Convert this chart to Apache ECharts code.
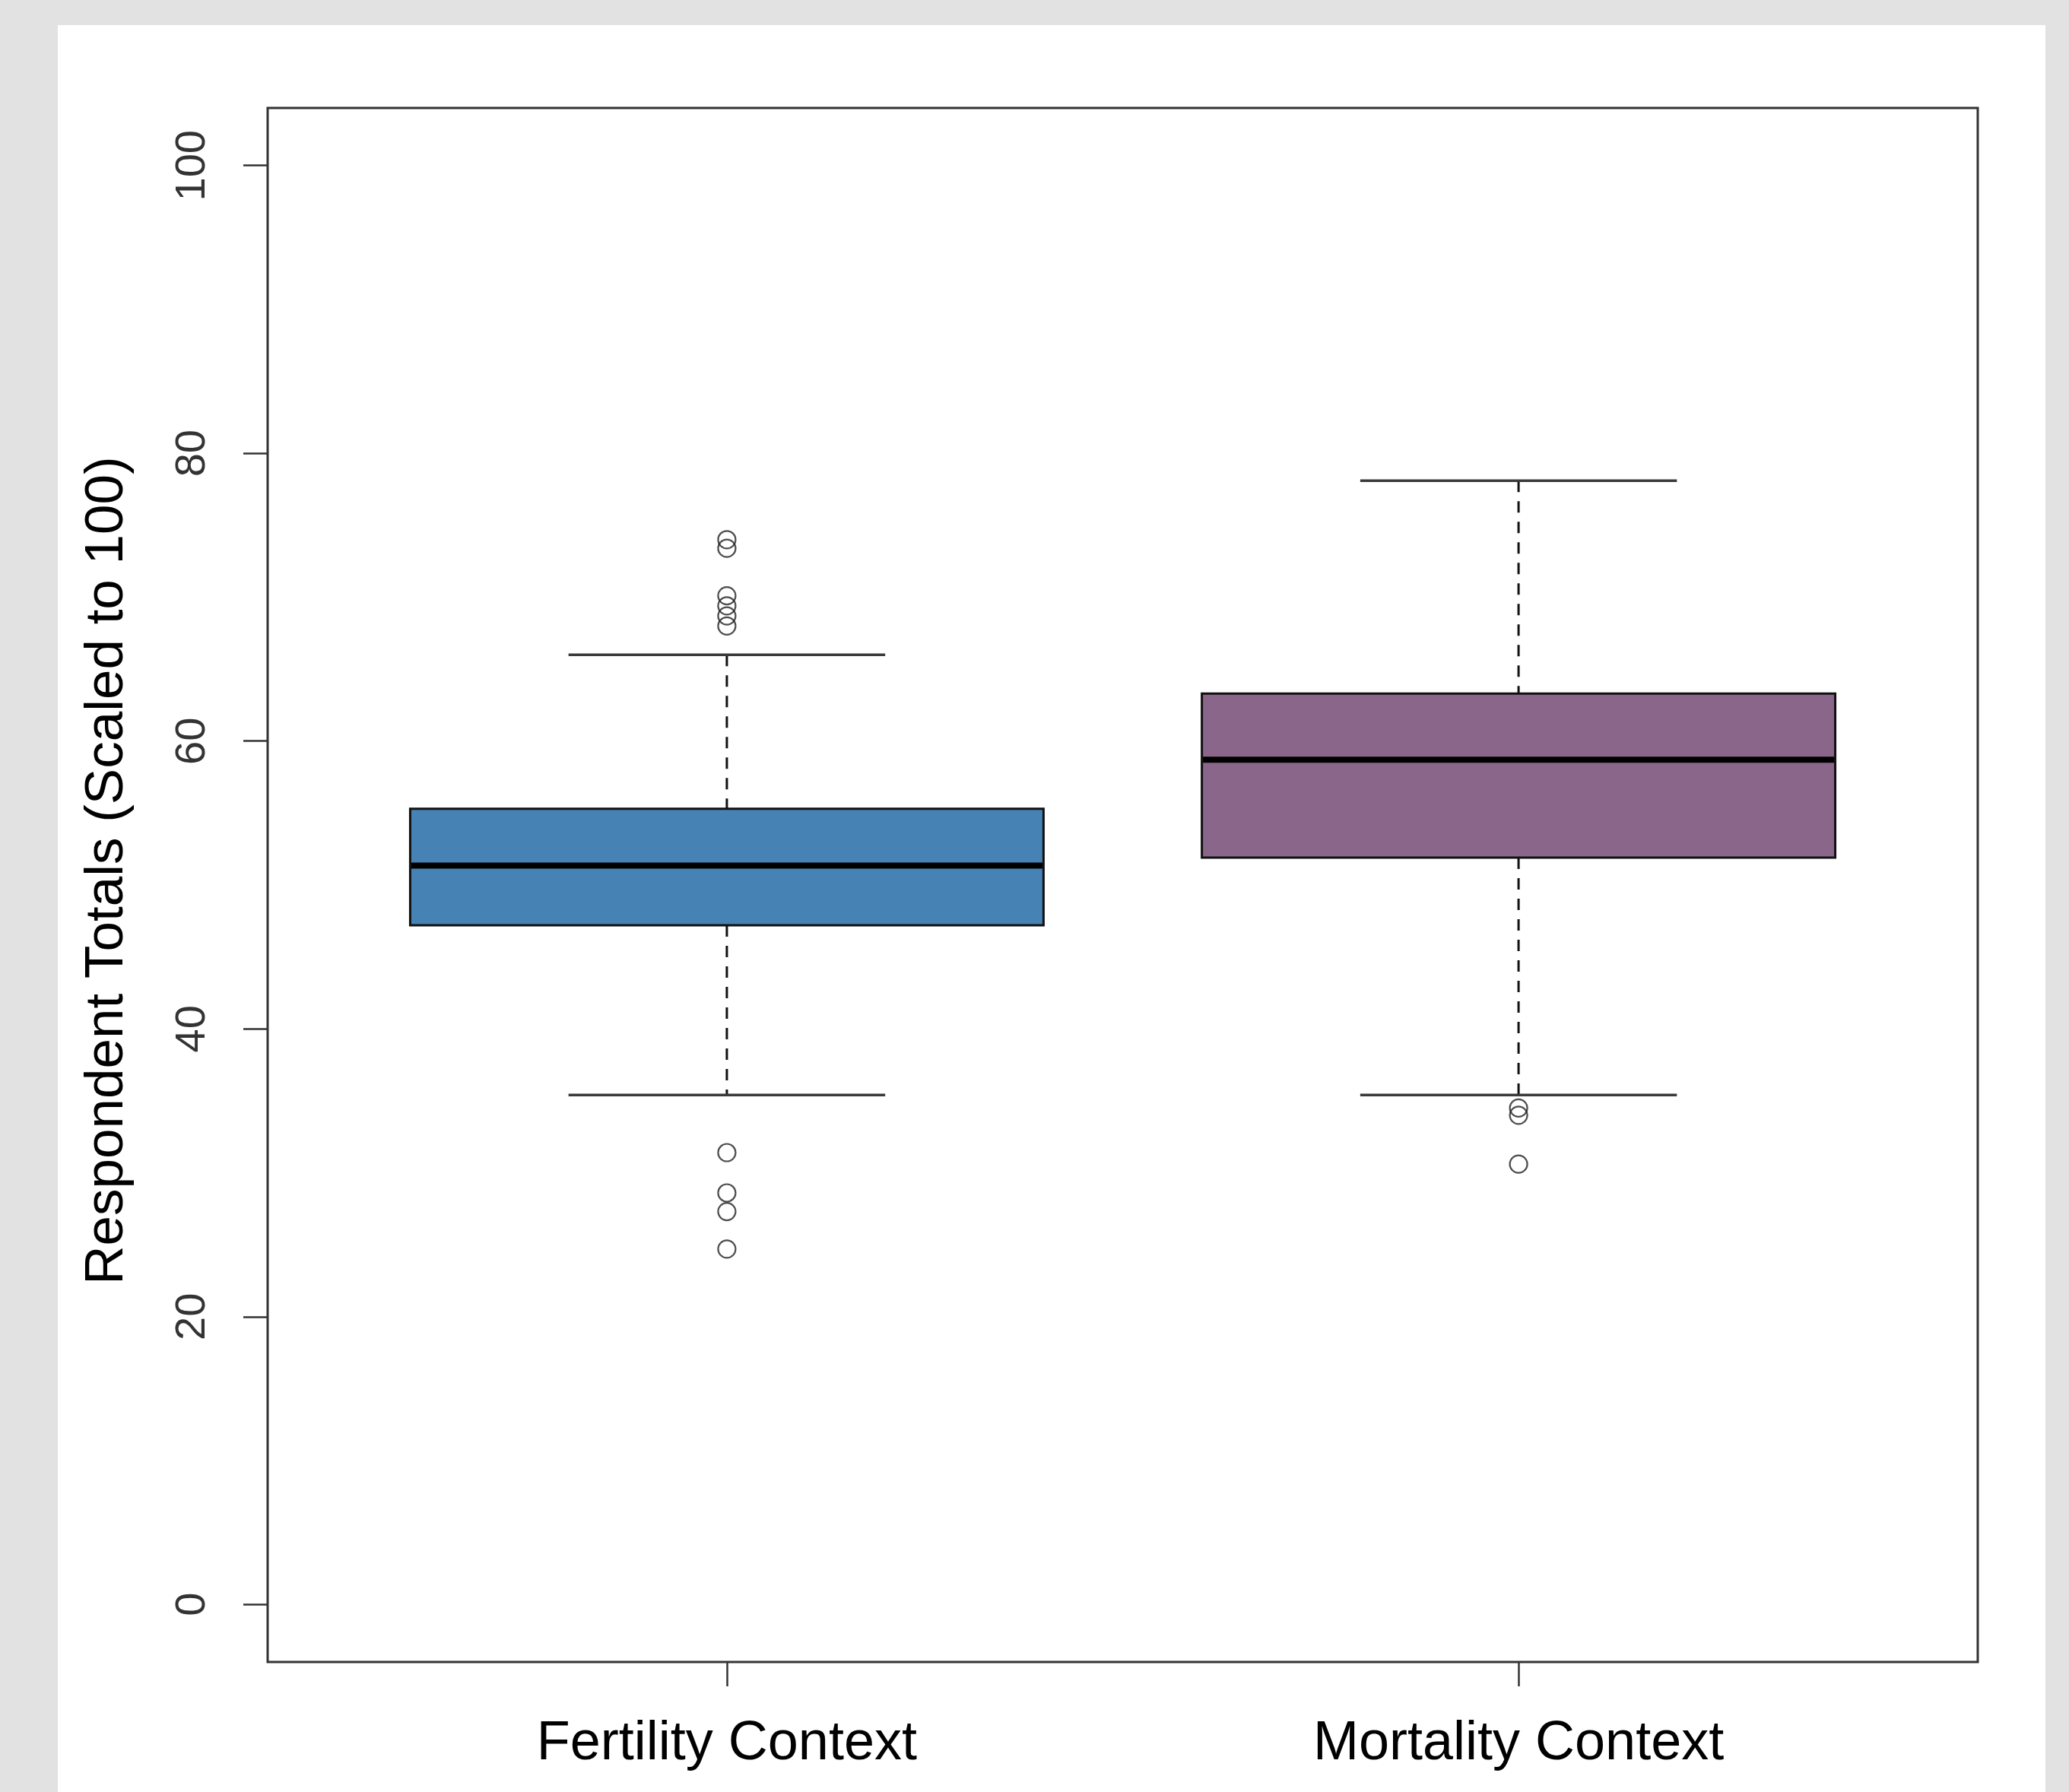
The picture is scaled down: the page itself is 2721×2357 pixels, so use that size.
<!DOCTYPE html>
<html>
<head>
<meta charset="utf-8">
<script src="https://cdn.jsdelivr.net/npm/echarts@6/dist/echarts.min.js"></script>
<style>
html,body{margin:0;padding:0;background:#e2e2e2;}
#chart{width:2721px;height:2357px;}
</style>
</head>
<body>
<div id="chart"></div>
<script>
// ---- data ----
const categories = ['Fertility Context', 'Mortality Context'];
const lowerWhisker = [35.4, 35.4];
const q1 = [47.2, 51.9];
const median = [51.35, 58.7];
const q3 = [55.3, 63.3];
const upperWhisker = [66.0, 78.1];
const fertilityOutliers = [74.0, 73.4, 70.1, 69.4, 68.7, 68.0, 31.4, 28.6, 27.3, 24.7];
const mortalityOutliers = [34.5, 34.0, 30.6];
const yTicks = [0, 20, 40, 60, 80, 100];
const yTitle = 'Respondent Totals (Scaled to 100)';

// ---- styles ----
const boxColors = ['#4682B4', '#8B668B'];
const FONT = '"Liberation Sans", Arial, Helvetica, sans-serif';

const chart = echarts.init(document.getElementById('chart'), null, {renderer: 'canvas'});

const boxData = categories.map((c, i) => [i, lowerWhisker[i], q1[i], median[i], q3[i], upperWhisker[i]]);
const outlierData = [
  fertilityOutliers.map(v => [0, v]),
  mortalityOutliers.map(v => [1, v])
];

function renderBox(params, api) {
  const i = api.value(0);
  const lo = api.coord([i, api.value(1)]);
  const b1 = api.coord([i, api.value(2)]);
  const md = api.coord([i, api.value(3)]);
  const b3 = api.coord([i, api.value(4)]);
  const hi = api.coord([i, api.value(5)]);
  const band = api.size([1, 0])[0];
  const hw = band * 0.4, cw = band * 0.2;
  const x = lo[0];
  const dash = {stroke: '#111', lineWidth: 3, lineDash: [15, 12]};
  const cap = {stroke: '#3a3a3a', lineWidth: 3.5};
  return {
    type: 'group',
    children: [
      {type: 'line', shape: {x1: x, y1: hi[1], x2: x, y2: b3[1]}, style: dash},
      {type: 'line', shape: {x1: x, y1: b1[1], x2: x, y2: lo[1]}, style: dash},
      {type: 'line', shape: {x1: x - cw, y1: hi[1], x2: x + cw, y2: hi[1]}, style: cap},
      {type: 'line', shape: {x1: x - cw, y1: lo[1], x2: x + cw, y2: lo[1]}, style: cap},
      {type: 'rect', shape: {x: x - hw, y: b3[1], width: 2 * hw, height: b1[1] - b3[1]},
        style: {fill: boxColors[params.dataIndex], stroke: '#111', lineWidth: 3}},
      {type: 'line', shape: {x1: x - hw + 1.5, y1: md[1], x2: x + hw - 1.5, y2: md[1]},
        style: {stroke: '#000', lineWidth: 8}}
    ]
  };
}

const option = {
  animation: false,
  backgroundColor: '#e2e2e2',
  textStyle: {fontFamily: FONT},
  graphic: [
    {type: 'rect', z: -10, silent: true, shape: {x: 76, y: 33, width: 2614, height: 2330}, style: {fill: '#ffffff'}}
  ],
  grid: [
    {left: 435.3, top: 142, width: 2082.4, height: 2044, containLabel: false},
    {left: 352, top: 142, width: 2249, height: 2044, show: true, borderColor: '#333', borderWidth: 3, backgroundColor: 'transparent', z: 5}
  ],
  xAxis: [
    {
      type: 'category', gridIndex: 0, data: categories, position: 'bottom',
      axisLine: {show: false, onZero: false},
      axisTick: {show: true, alignWithLabel: true, length: 32, lineStyle: {color: '#333', width: 2.5}},
      axisLabel: {fontSize: 72, color: '#000', margin: 72, fontFamily: FONT},
      splitLine: {show: false}
    },
    {type: 'value', gridIndex: 1, show: false, min: 0, max: 1}
  ],
  yAxis: [
    {
      type: 'value', gridIndex: 0, min: -4, max: 104, offset: 83.3,
      axisLine: {show: false},
      axisTick: {show: true, length: 32, customValues: yTicks, lineStyle: {color: '#333', width: 2.5}},
      axisLabel: {rotate: 90, fontSize: 56, color: '#333', margin: 70, customValues: yTicks, fontFamily: FONT},
      splitLine: {show: false},
      name: yTitle, nameLocation: 'middle', nameGap: 175, nameRotate: 90,
      nameTextStyle: {fontSize: 71, color: '#000', fontFamily: FONT, padding: [0, 0, 0, 38]}
    },
    {type: 'value', gridIndex: 1, show: false, min: 0, max: 1}
  ],
  series: [
    {
      type: 'custom', xAxisIndex: 0, yAxisIndex: 0,
      renderItem: renderBox,
      encode: {x: 0, y: [1, 2, 3, 4, 5]},
      data: boxData, z: 2
    },
    {
      type: 'scatter', xAxisIndex: 0, yAxisIndex: 0, data: outlierData[0],
      symbol: 'circle', symbolSize: 23,
      itemStyle: {color: 'rgba(0,0,0,0)', borderColor: '#222', borderWidth: 2.2}, z: 3
    },
    {
      type: 'scatter', xAxisIndex: 0, yAxisIndex: 0, data: outlierData[1],
      symbol: 'circle', symbolSize: 23,
      itemStyle: {color: 'rgba(0,0,0,0)', borderColor: '#222', borderWidth: 2.2}, z: 3
    }
  ]
};
chart.setOption(option);
</script>
</body>
</html>
